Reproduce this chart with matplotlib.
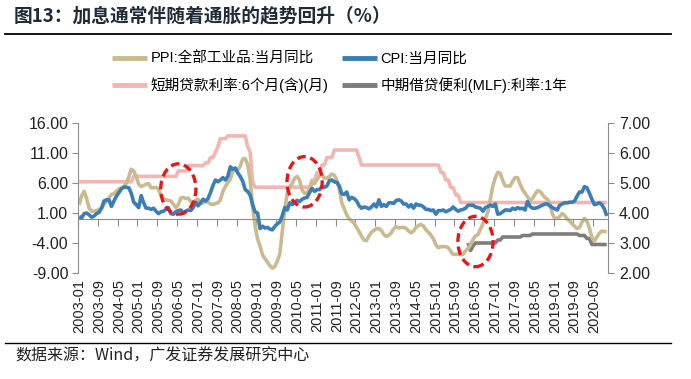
import matplotlib
matplotlib.use("Agg")
import matplotlib.pyplot as plt
from matplotlib.patches import Ellipse
import numpy as np
import pandas as pd

# ---------------- data ----------------
months = pd.period_range("2003-01", "2020-10", freq="M").strftime("%Y-%m").tolist()

cpi = [
    0.4, 0.2, 0.9, 1.0, 0.7, 0.3, 0.5, 0.9, 1.1, 1.8, 3.0, 3.2,
    3.2, 2.1, 3.0, 3.8, 4.4, 5.0, 5.3, 5.3, 5.2, 4.3, 2.8, 2.4,
    1.9, 3.9, 2.7, 1.8, 1.8, 1.6, 1.8, 1.3, 0.9, 1.2, 1.3, 1.6,
    1.9, 0.9, 0.8, 1.2, 1.4, 1.5, 1.0, 1.3, 1.5, 1.4, 1.9, 2.8,
    2.2, 2.7, 3.3, 3.0, 3.4, 4.4, 5.6, 6.5, 6.2, 6.5, 6.9, 6.5,
    7.1, 8.7, 8.3, 8.5, 7.7, 7.1, 6.3, 4.9, 4.6, 4.0, 2.4, 1.2,
    1.0, -1.6, -1.2, -1.5, -1.4, -1.7, -1.8, -1.2, -0.8, -0.5, 0.6, 1.9,
    1.5, 2.7, 2.4, 2.8, 3.1, 2.9, 3.3, 3.5, 3.6, 4.4, 5.1, 4.6,
    4.9, 4.9, 5.4, 5.3, 5.5, 6.4, 6.5, 6.2, 6.1, 5.5, 4.2, 4.1,
    4.5, 3.2, 3.6, 3.4, 3.0, 2.2, 1.8, 2.0, 1.9, 1.7, 2.0, 2.5,
    2.0, 3.2, 2.1, 2.4, 2.1, 2.7, 2.7, 2.6, 3.1, 3.2, 3.0, 2.5,
    2.5, 2.0, 2.4, 1.8, 2.5, 2.3, 2.3, 2.0, 1.6, 1.6, 1.4, 1.5,
    0.8, 1.4, 1.4, 1.5, 1.2, 1.4, 1.6, 2.0, 1.6, 1.3, 1.5, 1.6,
    1.8, 2.3, 2.3, 2.3, 2.0, 1.9, 1.8, 1.3, 1.9, 2.1, 2.3, 2.1,
    2.5, 0.8, 0.9, 1.2, 1.5, 1.5, 1.4, 1.8, 1.6, 1.9, 1.7, 1.8,
    1.5, 2.9, 2.1, 1.8, 1.8, 1.9, 2.1, 2.3, 2.5, 2.5, 2.2, 1.9,
    1.7, 1.5, 2.3, 2.5, 2.7, 2.7, 2.8, 2.8, 3.0, 3.8, 4.5, 4.5,
    5.4, 5.2, 4.3, 3.3, 2.4, 2.5, 2.7, 2.4, 1.7, 0.5,
]

ppi = [
    2.4, 3.9, 4.6, 3.4, 1.8, 1.3, 1.3, 1.4, 1.6, 1.8, 2.4, 3.0,
    3.5, 4.1, 4.2, 4.6, 5.0, 5.2, 5.4, 6.0, 7.0, 8.3, 8.0, 7.1,
    5.8, 5.4, 5.6, 5.8, 5.9, 5.2, 5.2, 5.3, 4.9, 4.0, 3.2, 3.2,
    3.1, 3.0, 2.5, 1.9, 2.4, 3.5, 3.6, 3.4, 3.5, 2.9, 2.8, 3.1,
    3.3, 2.6, 2.7, 2.9, 2.8, 2.5, 2.4, 2.6, 2.7, 3.2, 4.6, 5.4,
    6.1, 6.6, 8.0, 8.1, 8.2, 8.8, 10.0, 10.1, 9.1, 6.6, 2.0, -1.1,
    -3.3, -4.5, -6.0, -6.6, -7.2, -7.8, -8.2, -7.9, -7.0, -5.8, -2.1, 1.7,
    4.3, 5.4, 5.9, 6.8, 7.1, 6.4, 4.8, 4.3, 4.3, 5.0, 6.1, 5.9,
    6.6, 7.2, 7.3, 6.8, 6.8, 7.1, 7.5, 7.3, 6.5, 5.0, 2.7, 1.7,
    0.7, 0.0, -0.3, -0.7, -1.4, -2.1, -2.9, -3.5, -3.6, -2.8, -2.2, -1.9,
    -1.6, -1.6, -1.9, -2.6, -2.9, -2.7, -2.3, -1.6, -1.3, -1.5, -1.4, -1.4,
    -1.6, -2.0, -2.3, -2.0, -1.4, -1.1, -0.9, -1.2, -1.8, -2.2, -2.7, -3.3,
    -4.3, -4.8, -4.6, -4.6, -4.6, -4.8, -5.4, -5.9, -5.9, -5.9, -5.9, -5.9,
    -5.3, -4.9, -4.3, -3.4, -2.8, -2.6, -1.7, -0.8, 0.1, 1.2, 3.3, 5.5,
    6.9, 7.8, 7.6, 6.4, 5.5, 5.5, 5.5, 6.3, 6.9, 6.9, 5.8, 4.9,
    4.3, 3.7, 3.1, 3.4, 4.1, 4.7, 4.6, 4.1, 3.6, 3.3, 2.7, 0.9,
    0.1, 0.1, 0.4, 0.9, 0.6, 0.0, -0.3, -0.8, -1.2, -1.6, -1.4, -0.5,
    0.1, -0.4, -1.5, -3.1, -3.7, -3.0, -2.4, -2.0, -2.1, -2.1,
]

# short-term lending rate, 6 months (right axis): (start month, rate)
loan_steps = [
    ("2003-01", 5.04), ("2004-11", 5.22), ("2006-05", 5.40), ("2006-09", 5.58),
    ("2007-04", 5.67), ("2007-06", 5.85), ("2007-08", 6.03), ("2007-09", 6.21),
    ("2007-10", 6.48), ("2008-01", 6.57), ("2008-09", 6.21), ("2008-10", 6.03),
    ("2008-11", 5.04), ("2008-12", 4.86), ("2010-11", 5.10), ("2011-01", 5.35),
    ("2011-03", 5.60), ("2011-05", 5.85), ("2011-08", 6.10), ("2012-06", 5.85),
    ("2012-07", 5.60), ("2015-03", 5.35), ("2015-05", 5.10), ("2015-07", 4.85),
    ("2015-09", 4.60), ("2015-11", 4.35),
]

# MLF 1Y rate (right axis): (start month, rate)
mlf_steps = [
    ("2016-02", 3.00), ("2016-03", 2.75), ("2016-04", 2.90), ("2016-05", 3.00),
    ("2017-02", 3.10), ("2017-04", 3.20), ("2017-12", 3.25), ("2018-04", 3.30),
    ("2019-11", 3.25), ("2020-02", 3.15), ("2020-04", 2.95),
]

left_ticks = [16, 11, 6, 1, -4, -9]
right_ticks = [7, 6, 5, 4, 3, 2]

# annotation ellipses: (center month, center value on left axis)
ellipse_centers = [("2006-05", 5.0), ("2010-08", 6.2), ("2016-05", -3.75)]

legend_labels = ["PPI:全部工业品:当月同比", "CPI:当月同比",
                 "短期贷款利率:6个月(含)(月)", "中期借贷便利(MLF):利率:1年"]

title = "图13：加息通常伴随着通胀的趋势回升（%）"
source = "数据来源：Wind，广发证券发展研究中心"

# ---------------- build step series ----------------
n = len(months)
idx = {m: i for i, m in enumerate(months)}


def step_series(steps, start_nan=False):
    s = np.full(n, np.nan)
    for k, (m, v) in enumerate(steps):
        end = idx[steps[k + 1][0]] if k + 1 < len(steps) else n
        s[idx[m]:end] = v
    return s


loan = step_series(loan_steps)
mlf = step_series(mlf_steps)
x = np.arange(n)

# ---------------- figure ----------------
W, H = 691, 379
fig = plt.figure(figsize=(W / 100, H / 100), dpi=100)
L, R, T, B = 78, 608, 123, 273
ax = fig.add_axes([L / W, 1 - B / H, (R - L) / W, (B - T) / H])
ax2 = ax.twinx()

C_PPI = "#C9BB8F"
C_CPI = "#3A7DB7"
C_LOAN = "#F2B6B2"
C_MLF = "#7F7C79"
AXC = "#8C8C8C"
LW = 2.6

latin = ["Liberation Sans", "Noto Sans CJK SC"]
cjk = ["Noto Sans CJK SC", "Liberation Sans"]

l1, = ax.plot(x, ppi, color=C_PPI, lw=LW, solid_capstyle="butt", zorder=2)
l2, = ax.plot(x, cpi, color=C_CPI, lw=LW, solid_capstyle="butt", zorder=3)
l3, = ax2.plot(x, loan, color=C_LOAN, lw=LW, solid_capstyle="butt", zorder=2)
l4, = ax2.plot(x, mlf, color=C_MLF, lw=LW, solid_capstyle="butt", zorder=3)

ax.set_xlim(-0.5, n - 0.5)
ax.set_ylim(-9, 16)
ax2.set_ylim(2, 7)
ax.set_zorder(ax2.get_zorder() + 1)
ax.patch.set_visible(False)

ax.set_yticks(left_ticks)
ax.set_yticklabels([f"{v:.2f}" for v in left_ticks], family=latin, fontsize=11.5)
ax2.set_yticks(right_ticks)
ax2.set_yticklabels([f"{v:.2f}" for v in right_ticks], family=latin, fontsize=11.5)

for a in (ax, ax2):
    for s in a.spines.values():
        s.set_visible(False)
ax.spines["left"].set_visible(True)
ax.spines["left"].set_color(AXC)
ax2.spines["right"].set_visible(True)
ax2.spines["right"].set_color(AXC)
ax.tick_params(axis="y", color=AXC, length=4, width=0.8, pad=3, labelcolor="#222222")
ax2.tick_params(axis="y", color=AXC, length=4, width=0.8, pad=4, labelcolor="#222222")

# category axis crossing at 0
ax.spines["bottom"].set_visible(True)
ax.spines["bottom"].set_position(("data", 0))
ax.spines["bottom"].set_color(AXC)
tick_pos = list(range(0, n, 8))
ax.set_xticks([p - 0.5 for p in tick_pos])
ax.set_xticklabels([])
ax.tick_params(axis="x", color=AXC, length=5, width=0.8, direction="out")

# x labels at bottom
for p in tick_pos:
    ax.text(p, -0.04, months[p], transform=ax.get_xaxis_transform(),
            rotation=90, ha="center", va="top", fontsize=10.5,
            family=latin, color="#222222")

# red dashed ellipses
for m, v in ellipse_centers:
    e = Ellipse((idx[m], v), width=14.2, height=8.4, fill=False,
                edgecolor="#E8161B", lw=2.4, linestyle=(0, (2.6, 1.4)), zorder=5)
    ax.add_patch(e)

# legend
fig.legend([l1, l3, l2, l4], [legend_labels[0], legend_labels[2], legend_labels[1], legend_labels[3]],
           ncol=2, loc="upper left", bbox_to_anchor=(112 / W, 1 - 52 / H),
           frameon=False, prop={"family": latin, "size": 10.5},
           handlelength=2.4, handletextpad=0.25, columnspacing=0.9,
           labelspacing=0.75, borderaxespad=0, borderpad=0)
leg = fig.legends[0]
for h in leg.legend_handles:
    h.set_linewidth(3.5)

# title and rules
fig.text(14 / W, 1 - 16 / H, title, family=cjk, fontsize=13.5, weight="bold",
         color="#1E2B38", ha="left", va="center")
fig.add_artist(plt.Line2D([5 / W, 671 / W], [1 - 33.5 / H] * 2, color="black", lw=1.3))
fig.add_artist(plt.Line2D([5 / W, 671 / W], [1 - 342.5 / H] * 2, color="black", lw=1.0))
fig.text(15 / W, 1 - 356 / H, source, family=cjk, fontsize=11.5,
         color="#222222", ha="left", va="center")

fig.savefig("out.png", dpi=100)
